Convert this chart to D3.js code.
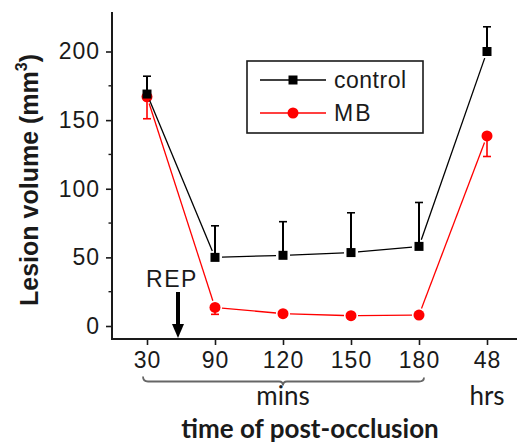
<!DOCTYPE html>
<html><head><meta charset="utf-8">
<script src="https://cdn.jsdelivr.net/npm/d3@7"></script>
<style>body{margin:0;background:#fff;} svg{display:block;}</style>
</head><body>
<svg id="c" width="517" height="444"></svg>
<script>
const categories = ["30","90","120","150","180","48"];
const control = [169, 50, 51.5, 53.5, 58, 200];
const controlErr = [13, 23, 24.5, 29, 32, 18];
const mb = [167, 13.5, 9, 7.5, 8, 138.5];
const mbErr = [16, 5, 2, 2, 2, 15];
const yTicks = [0, 50, 100, 150, 200];
const yMinorTicks = [25, 75, 125, 175];
const seriesNames = ["control", "MB"];

const svg = d3.select("#c");
const x = d3.scalePoint().domain(categories).range([147, 487]);
const y = d3.scaleLinear().domain([0, 200]).range([326, 51.5]);
const axisLeftX = 112, axisBottomY = 339;
const yTop = y.invert(12), yBot = y.invert(axisBottomY);
const ink = "#1a1a1a";
const tickFont = "Liberation Sans, Arial, sans-serif";

// Y axis
const gy = svg.append("g").attr("transform", `translate(${axisLeftX},0)`);
gy.call(d3.axisLeft(y).tickValues(yTicks).tickSize(6).tickSizeOuter(0).tickPadding(6));
gy.select(".domain").remove();
gy.selectAll(".tick line").attr("stroke", ink).attr("stroke-width", 1.6);
gy.selectAll(".tick text").attr("fill", ink).style("font-family", tickFont).style("font-size", "23px").style("letter-spacing", "1px");
gy.selectAll(".minor").data(yMinorTicks).enter().append("line")
  .attr("x1", -3.5).attr("x2", 0).attr("y1", d => y(d)).attr("y2", d => y(d))
  .attr("stroke", ink).attr("stroke-width", 1.4);
gy.append("line").attr("x1", 0).attr("x2", 0).attr("y1", y(yTop)).attr("y2", y(yBot) + 1)
  .attr("stroke", ink).attr("stroke-width", 2);

// X axis
const gx = svg.append("g").attr("transform", `translate(0,${axisBottomY})`);
gx.call(d3.axisBottom(x).tickSize(6).tickSizeOuter(0).tickPadding(7));
gx.select(".domain").remove();
gx.selectAll(".tick line").attr("stroke", ink).attr("stroke-width", 1.6);
gx.selectAll(".tick text").attr("fill", ink).style("font-family", tickFont).style("font-size", "23px").style("letter-spacing", "1px");
gx.append("line").attr("x1", axisLeftX - 1).attr("x2", 517).attr("y1", 0).attr("y2", 0)
  .attr("stroke", ink).attr("stroke-width", 2);

// connecting lines with gaps near markers
function segs(vals, gap) {
  const out = [];
  for (let i = 0; i < vals.length - 1; i++) {
    const x1 = x(categories[i]), y1 = y(vals[i]), x2 = x(categories[i+1]), y2 = y(vals[i+1]);
    const dx = x2 - x1, dy = y2 - y1, L = Math.hypot(dx, dy);
    out.push({x1: x1 + dx/L*gap, y1: y1 + dy/L*gap, x2: x2 - dx/L*gap, y2: y2 - dy/L*gap});
  }
  return out;
}
function drawSeries(vals, errs, color, dir, shape) {
  const g = svg.append("g");
  g.selectAll("line.s").data(segs(vals, 7)).enter().append("line")
    .attr("x1", d => d.x1).attr("y1", d => d.y1).attr("x2", d => d.x2).attr("y2", d => d.y2)
    .attr("stroke", color).attr("stroke-width", 1.3);
  const eb = g.selectAll("g.e").data(vals.map((v, i) => ({c: categories[i], v, e: errs[i]}))).enter().append("g");
  eb.append("line").attr("x1", d => x(d.c)).attr("x2", d => x(d.c))
    .attr("y1", d => y(d.v)).attr("y2", d => y(d.v + dir * d.e))
    .attr("stroke", color).attr("stroke-width", color === "#ff0000" ? 1.6 : 2);
  eb.append("line").attr("x1", d => x(d.c) - 4).attr("x2", d => x(d.c) + 4)
    .attr("y1", d => y(d.v + dir * d.e)).attr("y2", d => y(d.v + dir * d.e))
    .attr("stroke", color).attr("stroke-width", 1.6);
  if (shape === "square") {
    g.selectAll("rect").data(vals.map((v, i) => ({c: categories[i], v}))).enter().append("rect")
      .attr("x", d => x(d.c) - 4.5).attr("y", d => y(d.v) - 4.5).attr("width", 9).attr("height", 9)
      .attr("fill", "#000");
  } else {
    g.selectAll("circle").data(vals.map((v, i) => ({c: categories[i], v}))).enter().append("circle")
      .attr("cx", d => x(d.c)).attr("cy", d => y(d.v)).attr("r", 5.5).attr("fill", "#ff0000");
  }
}
drawSeries(mb, mbErr, "#ff0000", -1, "circle");
drawSeries(control, controlErr, "#000", 1, "square");

// legend
const lg = svg.append("g");
lg.append("rect").attr("x", 247).attr("y", 61).attr("width", 176).attr("height", 72)
  .attr("fill", "#fff").attr("stroke", ink).attr("stroke-width", 1.6);
const legY = [80, 113];
lg.append("line").attr("x1", 260).attr("x2", 326).attr("y1", legY[0]).attr("y2", legY[0]).attr("stroke", "#000").attr("stroke-width", 1.3);
lg.append("rect").attr("x", 293 - 4.5).attr("y", legY[0] - 4.5).attr("width", 9).attr("height", 9).attr("fill", "#000");
lg.append("line").attr("x1", 260).attr("x2", 326).attr("y1", legY[1]).attr("y2", legY[1]).attr("stroke", "#ff0000").attr("stroke-width", 1.3);
lg.append("circle").attr("cx", 293).attr("cy", legY[1]).attr("r", 5.5).attr("fill", "#ff0000");
lg.selectAll("text").data(seriesNames).enter().append("text")
  .attr("x", 334).attr("y", (d, i) => legY[i] + 8).text(d => d)
  .attr("fill", ink).style("font-family", tickFont).style("font-size", "23px").style("letter-spacing", (d, i) => i ? "2px" : "0.5px");

// REP arrow
svg.append("text").attr("x", 172).attr("y", 287).attr("text-anchor", "middle").text("REP")
  .attr("fill", ink).style("font-family", tickFont).style("font-size", "23px").style("letter-spacing", "1.5px");
svg.append("line").attr("x1", 178).attr("x2", 178).attr("y1", 292).attr("y2", 328).attr("stroke", "#000").attr("stroke-width", 4);
svg.append("path").attr("d", "M172,324 L184,324 L178,338 Z").attr("fill", "#000");

// brace under minutes
const bx1 = x("30") - 4, bx2 = x("180") + 5, bm = x("120"), by = 381.5;
svg.append("path")
  .attr("d", `M${bx1},${by-5} Q${bx1},${by} ${bx1+5},${by} L${bm-4},${by} Q${bm},${by} ${bm},${by+4} Q${bm},${by} ${bm+4},${by} L${bx2-5},${by} Q${bx2},${by} ${bx2},${by-4}`)
  .attr("fill", "none").attr("stroke", "#666").attr("stroke-width", 1.8);

const lblFont = "Lato, 'Open Sans', sans-serif";
svg.append("text").attr("x", bm).attr("y", 405).attr("text-anchor", "middle").text("mins")
  .attr("fill", ink).style("font-family", lblFont).style("font-size", "26px");
svg.append("text").attr("x", x("48")).attr("y", 405).attr("text-anchor", "middle").text("hrs")
  .attr("fill", ink).style("font-family", lblFont).style("font-size", "26px");
svg.append("text").attr("x", 310).attr("y", 438).attr("text-anchor", "middle").text("time of post-occlusion")
  .attr("fill", ink).style("font-family", lblFont).style("font-size", "26px").style("font-weight", "bold");

// Y title
const yt = svg.append("text").attr("transform", "translate(38,180) rotate(-90)").attr("text-anchor", "middle")
  .attr("fill", ink).style("font-family", tickFont).style("font-size", "25px").style("font-weight", "bold");
yt.append("tspan").text("Lesion volume (mm");
yt.append("tspan").text("3").attr("dy", -11).style("font-size", "16px");
yt.append("tspan").text(")").attr("dy", 11);
</script>
</body></html>
